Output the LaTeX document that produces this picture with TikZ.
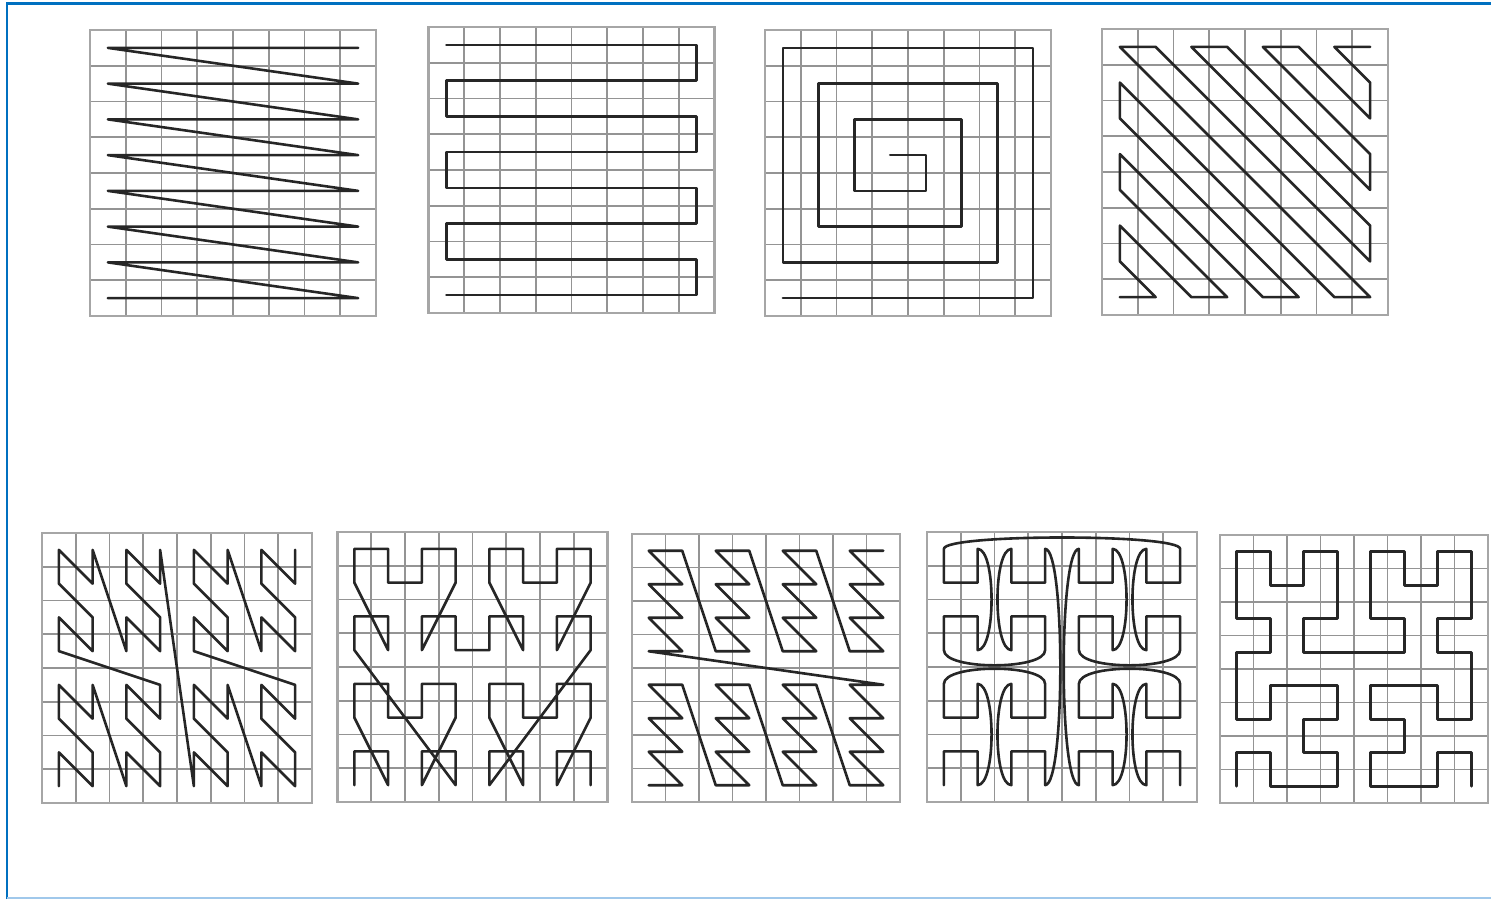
\documentclass[tikz,border=0pt]{standalone}
\definecolor{frameblue}{RGB}{0,112,192}
\definecolor{lightblue}{RGB}{160,200,235}
\tikzset{
  gridline/.style={draw=black!42, line width=0.85pt},
  frameline/.style={draw=black!35, line width=1.2pt},
  curve/.style={draw=black!85, line width=1.3pt, line join=round, line cap=round},
}
\newcommand{\panelgrid}{%
  \foreach \i in {1,...,7}{\draw[gridline] (\i,0)--(\i,8); \draw[gridline] (0,\i)--(8,\i);}
  \draw[frameline] (0,0) rectangle (8,8);}
\begin{document}
\begin{tikzpicture}[x=0.5pt,y=-0.5pt]
\useasboundingbox (0,0) rectangle (1491,899);
\fill[white] (0,0) rectangle (1491,899);
% outer blue frame
\draw[frameblue, line width=1.3pt] (7,899) -- (7,3.5) -- (1491,3.5);
\draw[lightblue, line width=1pt] (7,897.5) -- (1491,897.5);

% ---------- Panel 1: raster scan ----------
\begin{scope}[shift={(90,316)}, x=17.875pt, y=17.875pt]
\panelgrid
\begin{scope}[shift={(0.5,0.5)}]
\draw[curve] (7,7)--(0,7)--(7,6)--(0,6)--(7,5)--(0,5)--(7,4)--(0,4)--(7,3)--(0,3)--(7,2)--(0,2)--(7,1)--(0,1)--(7,0)--(0,0);
\end{scope}
\end{scope}

% ---------- Panel 2: snake ----------
\begin{scope}[shift={(428.5,313)}, x=17.875pt, y=17.875pt]
\panelgrid
\begin{scope}[shift={(0.5,0.5)}]
\draw[curve] (0,7)--(7,7)--(7,6)--(0,6)--(0,5)--(7,5)--(7,4)--(0,4)--(0,3)--(7,3)--(7,2)--(0,2)--(0,1)--(7,1)--(7,0)--(0,0);
\end{scope}
\end{scope}

% ---------- Panel 3: spiral ----------
\begin{scope}[shift={(765,316)}, x=17.875pt, y=17.875pt]
\panelgrid
\begin{scope}[shift={(0.5,0.5)}]
\draw[curve] (0,0)--(7,0)--(7,7)--(0,7)--(0,1)--(6,1)--(6,6)--(1,6)--(1,2)--(5,2)--(5,5)--(2,5)--(2,3)--(4,3)--(4,4)--(3,4);
\end{scope}
\end{scope}

% ---------- Panel 4: zigzag ----------
\begin{scope}[shift={(1102,315)}, x=17.875pt, y=17.875pt]
\panelgrid
\begin{scope}[shift={(0.5,0.5)}]
\draw[curve] (0,0)--(1,0)--(0,1)--(0,2)--(2,0)--(3,0)--(0,3)--(0,4)--(4,0)--(5,0)--(0,5)--(0,6)--(6,0)--(7,0)--(0,7)--(1,7)--(7,1)--(7,2)--(2,7)--(3,7)--(7,3)--(7,4)--(4,7)--(5,7)--(7,5)--(7,6)--(6,7)--(7,7);
\end{scope}
\end{scope}

% ---------- Panel 5: Z-order (N) ----------
\begin{scope}[shift={(42,803)}, x=16.875pt, y=16.875pt]
\panelgrid
\begin{scope}[shift={(0.5,0.5)}]
\draw[curve] (0,0)--(0,1)--(1,0)--(1,1)--(0,2)--(0,3)--(1,2)--(1,3)--(2,0)--(2,1)--(3,0)--(3,1)--(2,2)--(2,3)--(3,2)--(3,3)
 --(0,4)--(0,5)--(1,4)--(1,5)--(0,6)--(0,7)--(1,6)--(1,7)--(2,4)--(2,5)--(3,4)--(3,5)--(2,6)--(2,7)--(3,6)--(3,7)
 --(4,0)--(4,1)--(5,0)--(5,1)--(4,2)--(4,3)--(5,2)--(5,3)--(6,0)--(6,1)--(7,0)--(7,1)--(6,2)--(6,3)--(7,2)--(7,3)
 --(4,4)--(4,5)--(5,4)--(5,5)--(4,6)--(4,7)--(5,6)--(5,7)--(6,4)--(6,5)--(7,4)--(7,5)--(6,6)--(6,7)--(7,6)--(7,7);
\end{scope}
\end{scope}

% ---------- Panel 6: U-order ----------
\begin{scope}[shift={(337.5,802)}, x=16.875pt, y=16.875pt]
\panelgrid
\begin{scope}[shift={(0.5,0.5)}]
\draw[curve] (0,0)--(0,1)--(1,1)--(1,0)--(0,2)--(0,3)--(1,3)--(1,2)--(2,2)--(2,3)--(3,3)--(3,2)--(2,0)--(2,1)--(3,1)--(3,0)
 --(0,4)--(0,5)--(1,5)--(1,4)--(0,6)--(0,7)--(1,7)--(1,6)--(2,6)--(2,7)--(3,7)--(3,6)--(2,4)--(2,5)--(3,5)--(3,4)
 --(4,4)--(4,5)--(5,5)--(5,4)--(4,6)--(4,7)--(5,7)--(5,6)--(6,6)--(6,7)--(7,7)--(7,6)--(6,4)--(6,5)--(7,5)--(7,4)
 --(4,0)--(4,1)--(5,1)--(5,0)--(4,2)--(4,3)--(5,3)--(5,2)--(6,2)--(6,3)--(7,3)--(7,2)--(6,0)--(6,1)--(7,1)--(7,0);
\end{scope}
\end{scope}

% ---------- Panel 7 ----------
\begin{scope}[shift={(632,802)}, x=16.75pt, y=16.75pt]
\panelgrid
\begin{scope}[shift={(0.5,0.5)}]
\draw[curve] (0,0)--(1,0)--(0,1)--(1,1)--(0,2)--(1,2)--(0,3)--(1,3)
 --(2,0)--(3,0)--(2,1)--(3,1)--(2,2)--(3,2)--(2,3)--(3,3)
 --(4,0)--(5,0)--(4,1)--(5,1)--(4,2)--(5,2)--(4,3)--(5,3)
 --(6,0)--(7,0)--(6,1)--(7,1)--(6,2)--(7,2)--(6,3)--(7,3)
 --(0,4)--(1,4)--(0,5)--(1,5)--(0,6)--(1,6)--(0,7)--(1,7)
 --(2,4)--(3,4)--(2,5)--(3,5)--(2,6)--(3,6)--(2,7)--(3,7)
 --(4,4)--(5,4)--(4,5)--(5,5)--(4,6)--(5,6)--(4,7)--(5,7)
 --(6,4)--(7,4)--(6,5)--(7,5)--(6,6)--(7,6)--(6,7)--(7,7);
\end{scope}
\end{scope}

% ---------- Panel 8 ----------
\begin{scope}[shift={(927,802)}, x=16.875pt, y=16.875pt]
\panelgrid
\begin{scope}[shift={(0.5,0.5)}]
\draw[curve] (0,0)--(0,1)--(1,1)--(1,0) .. controls +(0.55,0) and +(0.55,0) .. (1,3)--(1,2)--(0,2)--(0,3)
 .. controls +(0,0.6) and +(0,0.6) .. (3,3)--(3,2)--(2,2)--(2,3) .. controls +(-0.55,0) and +(-0.55,0) .. (2,0)--(2,1)--(3,1)--(3,0)
 .. controls +(0.6,0) and +(0.6,0) .. (3,7)--(3,6)--(2,6)--(2,7) .. controls +(-0.55,0) and +(-0.55,0) .. (2,4)--(2,5)--(3,5)--(3,4)
 .. controls +(0,-0.6) and +(0,-0.6) .. (0,4)--(0,5)--(1,5)--(1,4) .. controls +(0.55,0) and +(0.55,0) .. (1,7)--(1,6)--(0,6)--(0,7)
 .. controls +(0,0.45) and +(0,0.45) .. (7,7)--(7,6)--(6,6)--(6,7) .. controls +(-0.55,0) and +(-0.55,0) .. (6,4)--(6,5)--(7,5)--(7,4)
 .. controls +(0,-0.6) and +(0,-0.6) .. (4,4)--(4,5)--(5,5)--(5,4) .. controls +(0.55,0) and +(0.55,0) .. (5,7)--(5,6)--(4,6)--(4,7)
 .. controls +(-0.6,0) and +(-0.6,0) .. (4,0)--(4,1)--(5,1)--(5,0) .. controls +(0.55,0) and +(0.55,0) .. (5,3)--(5,2)--(4,2)--(4,3)
 .. controls +(0,0.6) and +(0,0.6) .. (7,3)--(7,2)--(6,2)--(6,3) .. controls +(-0.55,0) and +(-0.55,0) .. (6,0)--(6,1)--(7,1)--(7,0);
\end{scope}
\end{scope}

% ---------- Panel 9: Hilbert ----------
\begin{scope}[shift={(1220,803)}, x=16.75pt, y=16.75pt]
\panelgrid
\begin{scope}[shift={(0.5,0.5)}]
\draw[curve] (0,0)--(0,1)--(1,1)--(1,0)--(2,0)--(3,0)--(3,1)--(2,1)--(2,2)--(3,2)--(3,3)--(2,3)--(1,3)--(1,2)--(0,2)--(0,3)
 --(0,4)--(1,4)--(1,5)--(0,5)--(0,6)--(0,7)--(1,7)--(1,6)--(2,6)--(2,7)--(3,7)--(3,6)--(3,5)--(2,5)--(2,4)--(3,4)
 --(4,4)--(5,4)--(5,5)--(4,5)--(4,6)--(4,7)--(5,7)--(5,6)--(6,6)--(6,7)--(7,7)--(7,6)--(7,5)--(6,5)--(6,4)--(7,4)
 --(7,3)--(7,2)--(6,2)--(6,3)--(5,3)--(4,3)--(4,2)--(5,2)--(5,1)--(4,1)--(4,0)--(5,0)--(6,0)--(6,1)--(7,1)--(7,0);
\end{scope}
\end{scope}
\end{tikzpicture}
\end{document}
